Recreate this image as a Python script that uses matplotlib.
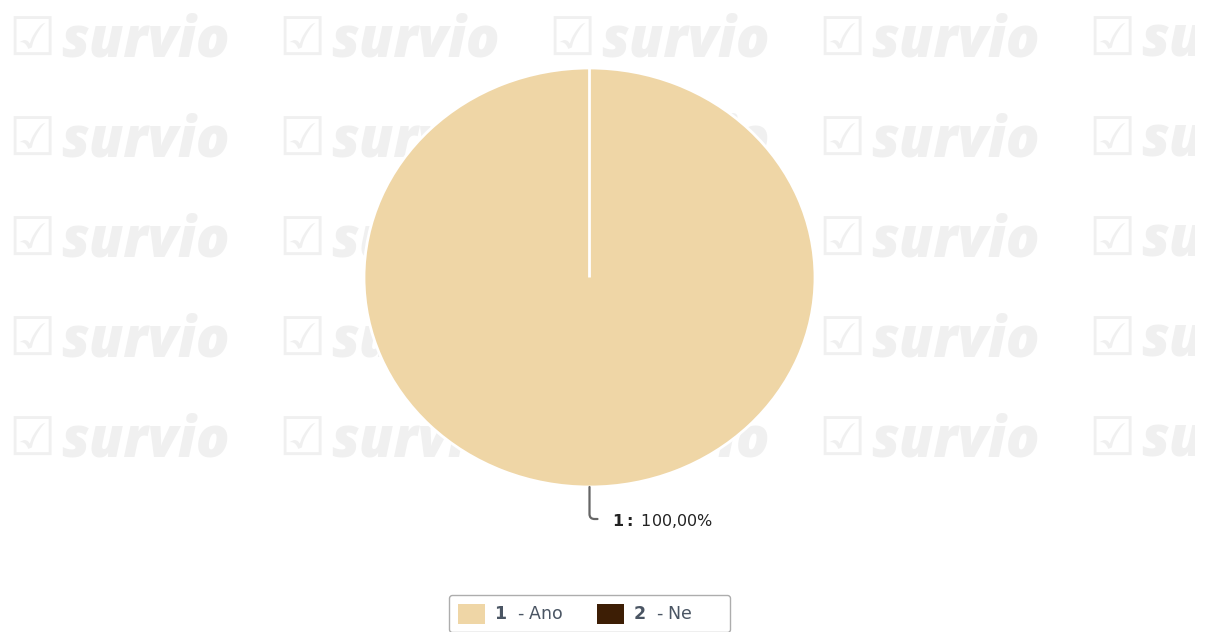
import matplotlib
matplotlib.use("Agg")
import matplotlib.pyplot as plt
import numpy as np

# data
categories = ["1", "2"]
answers = ["Ano", "Ne"]
values = [100.0, 0.0]
colors = ["#EFD6A6", "#3D1E05"]

W, H = 1206, 632
fig = plt.figure(figsize=(W / 100, H / 100), dpi=100)
fig.patch.set_facecolor("white")

# watermark layer
wm_col = "#f0f0f0"
wm = fig.add_axes([0, 1 - 517 / H, 1195 / W, 517 / H])
wm.set_xlim(0, 1195)
wm.set_ylim(517, 0)
wm.axis("off")
for cx in range(10, 1195, 270):
    word = "survio" if cx + 230 < 1195 else "su"
    for cy in range(40, 500, 100):
        wm.text(cx - 2, cy + 1, "\u2611", fontsize=38, color=wm_col, family="DejaVu Sans",
                va="center", ha="left")
        wm.text(cx + 51, cy + 2, word, fontsize=40, color=wm_col, family="Open Sans",
                fontweight="heavy", fontstyle="italic", va="center", ha="left", clip_on=True)

# pie
ax = fig.add_axes([364 / W, (H - 487) / H, 451 / W, 419 / H])
wedges, _ = ax.pie(values, colors=colors, startangle=90, counterclock=False,
                   wedgeprops=dict(edgecolor="white", linewidth=2.0))
ax.set_aspect("auto")
ax.set_xlim(-1.0, 1.0)
ax.set_ylim(-1.0, 1.0)
ax.axis("off")

# data label for the non-empty slice
total = sum(values)
for w, cat, v in zip(wedges, categories, values):
    if v <= 0:
        continue
    mid = np.deg2rad((w.theta1 + w.theta2) / 2)
    x, y = np.cos(mid), np.sin(mid)
    ax.annotate("", xy=(x, y), xytext=(8, -32), textcoords="offset pixels",
                arrowprops=dict(arrowstyle="-", color="#666666", lw=1.6,
                                shrinkA=0, shrinkB=0,
                                connectionstyle="angle,angleA=0,angleB=90,rad=5"),
                annotation_clip=False)
    pct = f"{100 * v / total:.2f}".replace(".", ",")
    ax.annotate(f"$\\bf{{{cat}:}}$ {pct}%", xy=(x, y), xytext=(23, -34),
                textcoords="offset pixels", fontsize=11.5, color="#222222",
                va="center", ha="left", annotation_clip=False)

# legend
labels = [f"$\\bf{{{c}}}$  - {a}" for c, a in zip(categories, answers)]
labels[-1] += "      "
leg = fig.legend(wedges, labels, loc="upper center", bbox_to_anchor=(589.5 / W, 1 - 595 / H),
                 borderaxespad=0, ncol=2, frameon=True, fancybox=True, fontsize=12.5,
                 handlelength=1.55, handleheight=1.4, handletextpad=0.55, columnspacing=1.9,
                 borderpad=0.5, edgecolor="#999999", labelcolor="#4a5563")
leg.get_frame().set_linewidth(1.0)
for h in leg.legend_handles:
    h.set_linewidth(0)

fig.savefig("out.png", dpi=100, facecolor="white")
